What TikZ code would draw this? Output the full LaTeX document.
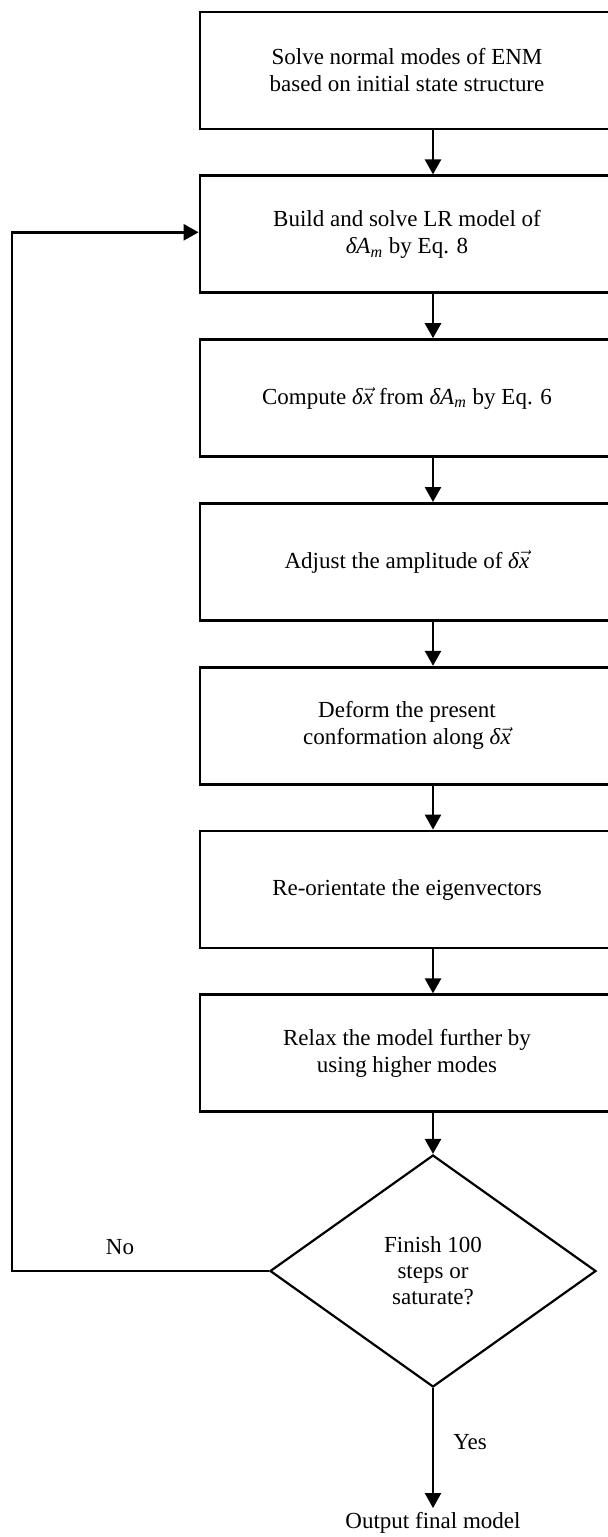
\documentclass[tikz,border=0pt]{standalone}
\usepackage{fontspec}
\setmainfont{Liberation Serif}
\usepackage{tikz}
\usetikzlibrary{positioning,arrows.meta,shapes.geometric,calc}
\newcommand{\dAm}{\textit{δA}\textsubscript{\textit{m}}}
\newcommand{\dvx}{\textit{δ}$\vec{\textit{x}}$}

\begin{document}
\begin{tikzpicture}[
      x=0.5pt, y=-0.5pt,
      node distance=22pt,
      stage/.style={rectangle, draw=black, line width=1.4pt, minimum width=207pt,
                    minimum height=58.5pt, align=center, inner sep=2pt,
                    font=\fontsize{11.5}{13.5}\selectfont},
      test/.style={diamond, draw=black, line width=1.1pt, minimum width=163pt,
                   minimum height=116pt, inner sep=0pt, align=center,
                   font=\fontsize{11.5}{13}\selectfont},
      lbl/.style={inner sep=2pt, font=\fontsize{11.5}{13.5}\selectfont},
      arr/.style={-{Triangle[length=7.5pt,width=8pt]}, line width=1.3pt},
    ]
    \useasboundingbox (0,0) rectangle (608,1537);
    \clip (0,0) rectangle (608,1537);

    \node[stage] (solve) at (407,70.5) {Solve normal modes of ENM\\based on initial state structure};
    \node[stage, below=of solve] (build) {Build and solve LR model of\\\dAm{} by Eq. 8};
    \node[stage, below=of build] (comp) {Compute \dvx{} from \dAm{} by Eq. 6};
    \node[stage, below=of comp] (adj) {Adjust the amplitude of \dvx};
    \node[stage, below=of adj] (deform) {Deform the present\\conformation along \dvx};
    \node[stage, below=of deform] (reor) {Re-orientate the eigenvectors};
    \node[stage, below=of reor] (relax) {Relax the model further by\\using higher modes};
    \node[test] (fin) at (433,1271) {Finish 100\\steps or\\saturate?};
    \node[lbl] (out) at (433,1523) {Output final model};
    \node[lbl] (yes) at (470,1442) {Yes};
    \node[lbl] (no) at (120,1247) {No};
    \coordinate (back) at (12,1271);

    \draw[arr] (solve.south -| fin.north) -- (build.north -| fin.north);
    \draw[arr] (build.south -| fin.north) -- (comp.north -| fin.north);
    \draw[arr] (comp.south -| fin.north) -- (adj.north -| fin.north);
    \draw[arr] (adj.south -| fin.north) -- (deform.north -| fin.north);
    \draw[arr] (deform.south -| fin.north) -- (reor.north -| fin.north);
    \draw[arr] (reor.south -| fin.north) -- (relax.north -| fin.north);
    \draw[arr] (relax.south -| fin.north) -- (fin.north);
    \draw[arr, line width=1.1pt] (fin.south) -- (out.north);
    \draw[arr] (fin.west) -- (back) |- ($(build.west)+(0,-2)$);
  \end{tikzpicture}
\end{document}
